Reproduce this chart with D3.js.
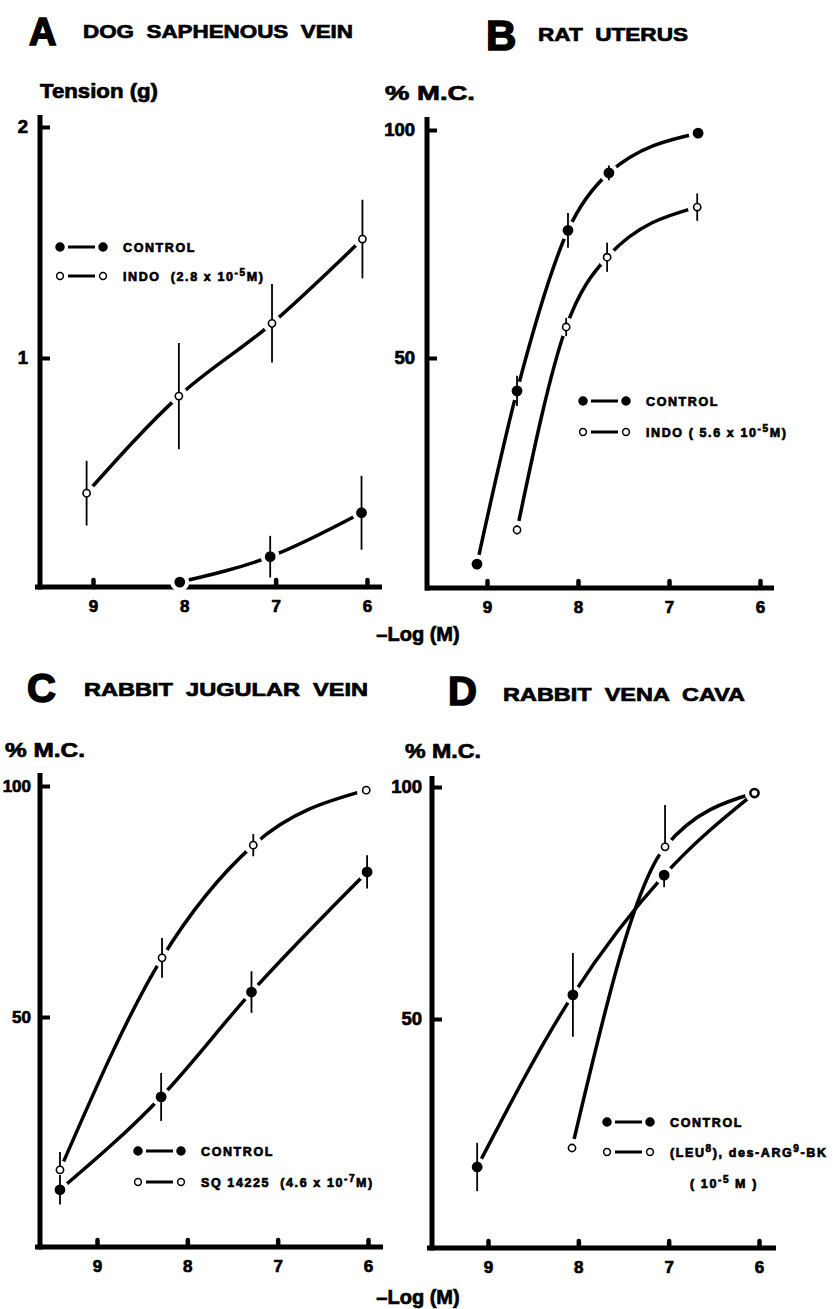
<!DOCTYPE html>
<html>
<head>
<meta charset="utf-8">
<script src="https://cdn.jsdelivr.net/npm/d3@7"></script>
<style>
body { margin: 0; background: #fff; }
text { font-family: "Liberation Sans", Arial, sans-serif; font-weight: bold; fill: #000; stroke: #000; stroke-width: 0.7px; }
text.big { stroke-width: 1.6px; }
</style>
</head>
<body>
<div class="svg"></div>
<script>
'use strict';

// x ticks, -log molar concentration
var doses = [9, 8, 7, 6];

// A  dog saphenous vein, tension in g
var aTicksY = [1, 2];
var aControlX = [8.05, 7.06, 6.06];
var aControlY = [0.03, 0.14, 0.33];
var aControlErr = [0, 0.09, 0.16];
var aIndoX = [9.07, 8.06, 7.04, 6.05];
var aIndoY = [0.415, 0.835, 1.15, 1.515];
var aIndoErr = [0.14, 0.23, 0.17, 0.17];

// B  rat uterus, % max contraction
var pctTicks = [50, 100];
var bControlX = [9.11, 8.67, 8.11, 7.66, 6.68];
var bControlY = [4.8, 42.8, 78, 90.6, 99.3];
var bControlErr = [0, 3.3, 3.8, 1.6, 0];
var bIndoX = [8.67, 8.13, 7.68, 6.69];
var bIndoY = [12.3, 56.8, 72.1, 83.1];
var bIndoErr = [1, 2, 3.2, 3];

// C  rabbit jugular vein
var cControlX = [9.41, 8.29, 7.29, 6.01];
var cControlY = [12.6, 32.7, 55.4, 81.4];
var cControlErr = [3.2, 5.2, 4.5, 3.6];
var cSqX = [9.41, 8.28, 7.27, 6.02];
var cSqY = [16.9, 62.8, 87.2, 99.1];
var cSqErrUp = [3.9, 4.3, 2.4, 0];
var cSqErrDown = [0, 4.3, 2.4, 0];

// D  rabbit vena cava
var dControlX = [9.12, 8.06, 7.05, 6.05];
var dControlY = [18.1, 55.2, 81, 98.7];
var dControlErrUp = [5.2, 9, 0, 0];
var dControlErrDown = [5.2, 9, 2.6, 0];
var dLeuX = [8.07, 7.04, 6.05];
var dLeuY = [22.2, 87.1, 98.7];
var dLeuErrUp = [0.8, 9, 0];
var dLeuErrDown = [0.8, 0, 0];

var W = 837, H = 1309;
var svg = d3.select('div.svg').append('svg')
    .attr('width', W)
    .attr('height', H);

function richText(g, parts, x, y, size, spacing) {
    var t = g.append('text')
        .attr('x', x)
        .attr('y', y)
        .attr('font-size', size)
        .attr('letter-spacing', spacing)
        .attr('xml:space', 'preserve');
    parts.forEach(function (p) {
        if (p.sup) {
            t.append('tspan').attr('dy', -5).attr('font-size', size * 0.8).text(p.t);
        } else if (p.after) {
            t.append('tspan').attr('dy', 5).text(p.t);
        } else {
            t.append('tspan').text(p.t);
        }
    });
    return t;
}

function series(xs, ys, up, down, filled) {
    return xs.map(function (d, i) {
        return { x: d, y: ys[i], up: up[i], down: down[i], filled: filled };
    });
}

function panel(cfg) {
    var g = svg.append('g');
    var x = d3.scaleLinear().domain([9, 6]).range(cfg.xr);
    var y = d3.scaleLinear().domain(cfg.yd).range(cfg.yr);

    // titles
    g.append('text').attr('class', 'big')
        .attr('x', cfg.letter[0]).attr('y', cfg.letter[1])
        .attr('font-size', cfg.letter[2]).text(cfg.name);
    g.append('text').attr('x', cfg.title[0]).attr('y', cfg.title[1])
        .attr('font-size', 19).attr('textLength', cfg.title[2])
        .attr('lengthAdjust', 'spacingAndGlyphs')
        .attr('xml:space', 'preserve').text(cfg.titleText);
    g.append('text').attr('x', cfg.ylab[0]).attr('y', cfg.ylab[1])
        .attr('font-size', 20).attr('textLength', cfg.ylab[2])
        .attr('lengthAdjust', 'spacingAndGlyphs').text(cfg.ylabText);

    // axis frame
    g.append('line')
        .attr('x1', cfg.ax).attr('x2', cfg.ax)
        .attr('y1', cfg.top).attr('y2', cfg.base + 2.5)
        .attr('stroke', '#000').attr('stroke-width', 5);
    g.append('line')
        .attr('x1', cfg.left).attr('x2', cfg.right)
        .attr('y1', cfg.base).attr('y2', cfg.base)
        .attr('stroke', '#000').attr('stroke-width', 5);

    var xa = g.append('g')
        .attr('transform', 'translate(0,' + cfg.base + ')')
        .call(d3.axisBottom(x).tickValues(doses).tickSize(-7).tickPadding(13).tickFormat(d3.format('d')));
    xa.select('.domain').remove();
    xa.attr('font-size', 17).attr('font-family', null);
    xa.selectAll('.tick line').attr('stroke-width', 4.5).attr('stroke-linecap', 'round');

    var ya = g.append('g')
        .attr('transform', 'translate(' + cfg.ax + ',0)')
        .call(d3.axisLeft(y).tickValues(cfg.yt).tickSize(-10).tickPadding(cfg.yPad).tickFormat(d3.format('d')));
    ya.select('.domain').remove();
    ya.attr('font-size', cfg.yFont).attr('font-family', null);
    ya.selectAll('.tick line').attr('stroke-width', 4);

    var line = d3.line()
        .x(function (d) { return x(d.x); })
        .y(function (d) { return y(d.y); })
        .curve(d3.curveMonotoneX);

    cfg.series.forEach(function (s) {
        g.append('path').attr('d', line(s))
            .attr('fill', 'none').attr('stroke', '#000')
            .attr('stroke-width', 3.5);
    });

    var pts = [].concat.apply([], cfg.series);

    // white gaps round each point
    g.selectAll('circle.halo').data(pts).enter().append('circle')
        .attr('class', 'halo')
        .attr('cx', function (d) { return x(d.x); })
        .attr('cy', function (d) { return y(d.y); })
        .attr('r', 9.5)
        .attr('fill', '#fff');

    g.selectAll('line.err').data(pts.filter(function (d) { return d.up || d.down; }))
        .enter().append('line')
        .attr('class', 'err')
        .attr('x1', function (d) { return x(d.x); })
        .attr('x2', function (d) { return x(d.x); })
        .attr('y1', function (d) { return y(d.y + d.up); })
        .attr('y2', function (d) { return y(d.y - d.down); })
        .attr('stroke', '#000').attr('stroke-width', 1.8);

    g.selectAll('circle.pt').data(pts).enter().append('circle')
        .attr('class', 'pt')
        .attr('cx', function (d) { return x(d.x); })
        .attr('cy', function (d) { return y(d.y); })
        .attr('r', function (d) { return d.filled ? 4.6 : 3.6; })
        .attr('fill', function (d) { return d.filled ? '#000' : '#fff'; })
        .attr('stroke', '#000').attr('stroke-width', 1.6);

    // legend
    cfg.legend.forEach(function (e) {
        var lx = e.pos[0], ly = e.pos[1];
        g.append('line').attr('x1', lx + 8).attr('x2', lx + 35)
            .attr('y1', ly).attr('y2', ly)
            .attr('stroke', '#000').attr('stroke-width', 3);
        [lx, lx + 43].forEach(function (cx) {
            g.append('circle').attr('cx', cx).attr('cy', ly)
                .attr('r', e.filled ? 4 : 3.4)
                .attr('fill', e.filled ? '#000' : '#fff')
                .attr('stroke', '#000').attr('stroke-width', 1.5);
        });
        richText(g, e.parts, lx + 63, ly + 4.5, 12.5, 1.6);
    });
    (cfg.extra || []).forEach(function (e) {
        richText(g, e.parts, e.pos[0], e.pos[1], 12.5, 1.6);
    });
}

panel({
    name: 'A', letter: [29, 45, 38],
    titleText: 'DOG  SAPHENOUS  VEIN', title: [83, 38, 270],
    ylabText: 'Tension (g)', ylab: [40, 98, 118],
    ax: 40, base: 587, top: 115, left: 35, right: 382,
    xr: [93, 367], yd: [0, 2], yr: [589, 127], yt: aTicksY, yPad: 12, yFont: 18.5,
    series: [
        series(aIndoX, aIndoY, aIndoErr, aIndoErr, false),
        series(aControlX, aControlY, aControlErr, aControlErr, true)
    ],
    legend: [
        { pos: [60, 247], filled: true, parts: [{ t: 'CONTROL' }] },
        { pos: [60, 276], filled: false, parts: [{ t: 'INDO  (2.8 x 10' }, { t: '-5', sup: true }, { t: 'M)', after: true }] }
    ]
});

panel({
    name: 'B', letter: [486, 50, 42],
    titleText: 'RAT  UTERUS', title: [538, 41, 150],
    ylabText: '% M.C.', ylab: [385, 100, 90],
    ax: 427, base: 588, top: 117, left: 425, right: 774,
    xr: [487, 760], yd: [0, 100], yr: [586, 130], yt: pctTicks, yPad: 12, yFont: 18.5,
    series: [
        series(bControlX, bControlY, bControlErr, bControlErr, true),
        series(bIndoX, bIndoY, bIndoErr, bIndoErr, false)
    ],
    legend: [
        { pos: [583, 401], filled: true, parts: [{ t: 'CONTROL' }] },
        { pos: [583, 432], filled: false, parts: [{ t: 'INDO ( 5.6 x 10' }, { t: '-5', sup: true }, { t: 'M)', after: true }] }
    ]
});

panel({
    name: 'C', letter: [27, 702, 40],
    titleText: 'RABBIT  JUGULAR  VEIN', title: [84, 696, 284],
    ylabText: '% M.C.', ylab: [5, 757, 80],
    ax: 40, base: 1247, top: 773, left: 35, right: 383,
    xr: [97, 368], yd: [0, 100], yr: [1248, 786], yt: pctTicks, yPad: 9, yFont: 17,
    series: [
        series(cSqX, cSqY, cSqErrUp, cSqErrDown, false),
        series(cControlX, cControlY, cControlErr, cControlErr, true)
    ],
    legend: [
        { pos: [138, 1151], filled: true, parts: [{ t: 'CONTROL' }] },
        { pos: [138, 1182], filled: false, parts: [{ t: 'SQ 14225  (4.6 x 10' }, { t: '-7', sup: true }, { t: 'M)', after: true }] }
    ]
});

panel({
    name: 'D', letter: [448, 705, 40],
    titleText: 'RABBIT  VENA  CAVA', title: [503, 701, 242],
    ylabText: '% M.C.', ylab: [405, 758, 76],
    ax: 432, base: 1248, top: 776, left: 427, right: 776,
    xr: [488, 759], yd: [0, 100], yr: [1251, 787], yt: pctTicks, yPad: 10, yFont: 18.5,
    series: [
        series(dControlX, dControlY, dControlErrUp, dControlErrDown, true),
        series(dLeuX, dLeuY, dLeuErrUp, dLeuErrDown, false)
    ],
    legend: [
        { pos: [607, 1122], filled: true, parts: [{ t: 'CONTROL' }] },
        { pos: [607, 1152], filled: false, parts: [{ t: '(LEU' }, { t: '8', sup: true }, { t: '), des-ARG', after: true }, { t: '9', sup: true }, { t: '-BK', after: true }] }
    ],
    extra: [
        { pos: [690, 1188], parts: [{ t: '( 10' }, { t: '-5', sup: true }, { t: ' M )', after: true }] }
    ]
});

// shared x axis titles
[641, 1304].forEach(function (yy) {
    svg.append('text')
        .attr('x', 418).attr('y', yy)
        .attr('text-anchor', 'middle')
        .attr('font-size', 20)
        .text('\u2013Log (M)');
});
</script>
</body>
</html>
